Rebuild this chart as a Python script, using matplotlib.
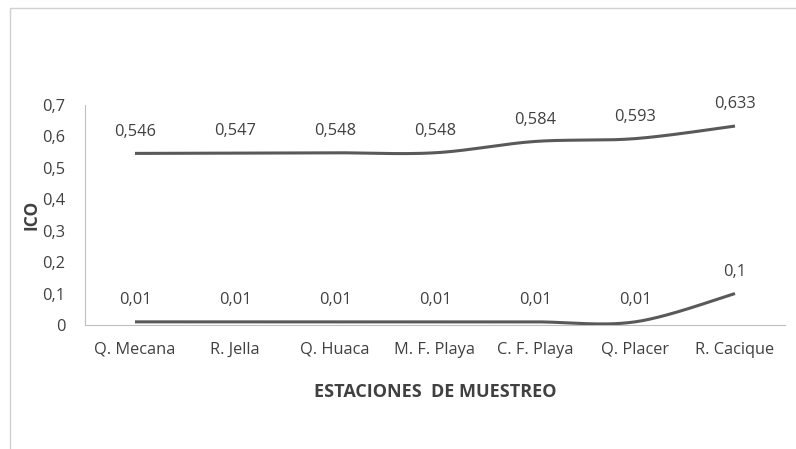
import numpy as np
import matplotlib.pyplot as plt
from matplotlib.patches import Rectangle
from matplotlib.ticker import FuncFormatter, MultipleLocator

plt.rcParams['font.family'] = ['Open Sans', 'DejaVu Sans']

# Stations and ICO values
stations = ['Q. Mecana', 'R. Jella', 'Q. Huaca', 'M. F. Playa', 'C. F. Playa', 'Q. Placer', 'R. Cacique']
ico_high = [0.546, 0.547, 0.548, 0.548, 0.584, 0.593, 0.633]
ico_low = [0.01, 0.01, 0.01, 0.01, 0.01, 0.01, 0.1]
high_labels = ['0,546', '0,547', '0,548', '0,548', '0,584', '0,593', '0,633']
low_labels = ['0,01', '0,01', '0,01', '0,01', '0,01', '0,01', '0,1']

LINE = '#595959'
TEXT = '#404040'


# Smoothed line through the points (cubic Bezier, Catmull-Rom tangents)
def smooth(x, y, steps=30):
    x = np.asarray(x, float)
    y = np.asarray(y, float)
    px = np.concatenate([[x[0]], x, [x[-1]]])
    py = np.concatenate([[y[0]], y, [y[-1]]])
    xs, ys = [], []
    t = np.linspace(0, 1, steps)
    for i in range(1, len(px) - 2):
        p0 = np.array([px[i], py[i]])
        p3 = np.array([px[i + 1], py[i + 1]])
        p1 = p0 + (np.array([px[i + 1], py[i + 1]]) - np.array([px[i - 1], py[i - 1]])) / 6
        p2 = p3 - (np.array([px[i + 2], py[i + 2]]) - np.array([px[i], py[i]])) / 6
        b = ((1 - t) ** 3)[:, None] * p0 + (3 * (1 - t) ** 2 * t)[:, None] * p1 \
            + (3 * (1 - t) * t ** 2)[:, None] * p2 + (t ** 3)[:, None] * p3
        xs.extend(b[:, 0])
        ys.extend(b[:, 1])
    return np.array(xs), np.array(ys)


fig = plt.figure(figsize=(7.96, 4.49), dpi=100)
fig.patches.append(Rectangle((10 / 796, -0.1), 1.2, (449 - 8) / 449 + 0.1,
                             transform=fig.transFigure, fill=False,
                             edgecolor='#d0d0d0', linewidth=1))
ax = fig.add_axes([85 / 796, 124 / 449, 700 / 796, 220 / 449])

x = np.arange(len(stations))
for vals, labels in [(ico_high, high_labels), (ico_low, low_labels)]:
    sx, sy = smooth(x, vals)
    ax.plot(sx, sy, color=LINE, linewidth=2.2, solid_capstyle='butt', zorder=3)
    for xi, v, lab in zip(x, vals, labels):
        ax.annotate(lab, (xi, v), xytext=(0, 10), textcoords='offset points',
                    ha='center', va='bottom', fontsize=11.8, color=TEXT)

ax.set_xlim(-0.5, len(stations) - 0.5)
ax.set_ylim(0, 0.7)
ax.yaxis.set_major_locator(MultipleLocator(0.1))
ax.yaxis.set_major_formatter(FuncFormatter(lambda v, p: f'{v:.1f}'.replace('.', ',') if v else '0'))
ax.set_xticks(x)
ax.set_xticklabels(stations)
ax.tick_params(length=0, labelsize=11.8, labelcolor=TEXT)
ax.tick_params(axis='x', pad=12)
ax.tick_params(axis='y', pad=14)

for s in ['top', 'right']:
    ax.spines[s].set_visible(False)
ax.spines['left'].set_color('#bfbfbf')
ax.spines['bottom'].set_color('#bfbfbf')

ax.set_xlabel('ESTACIONES  DE MUESTREO', fontsize=13, fontweight='bold', color=TEXT, labelpad=18)
ax.set_ylabel('ICO', fontsize=12.5, fontweight='bold', color=TEXT, labelpad=1)

fig.savefig('out.png', dpi=100)
